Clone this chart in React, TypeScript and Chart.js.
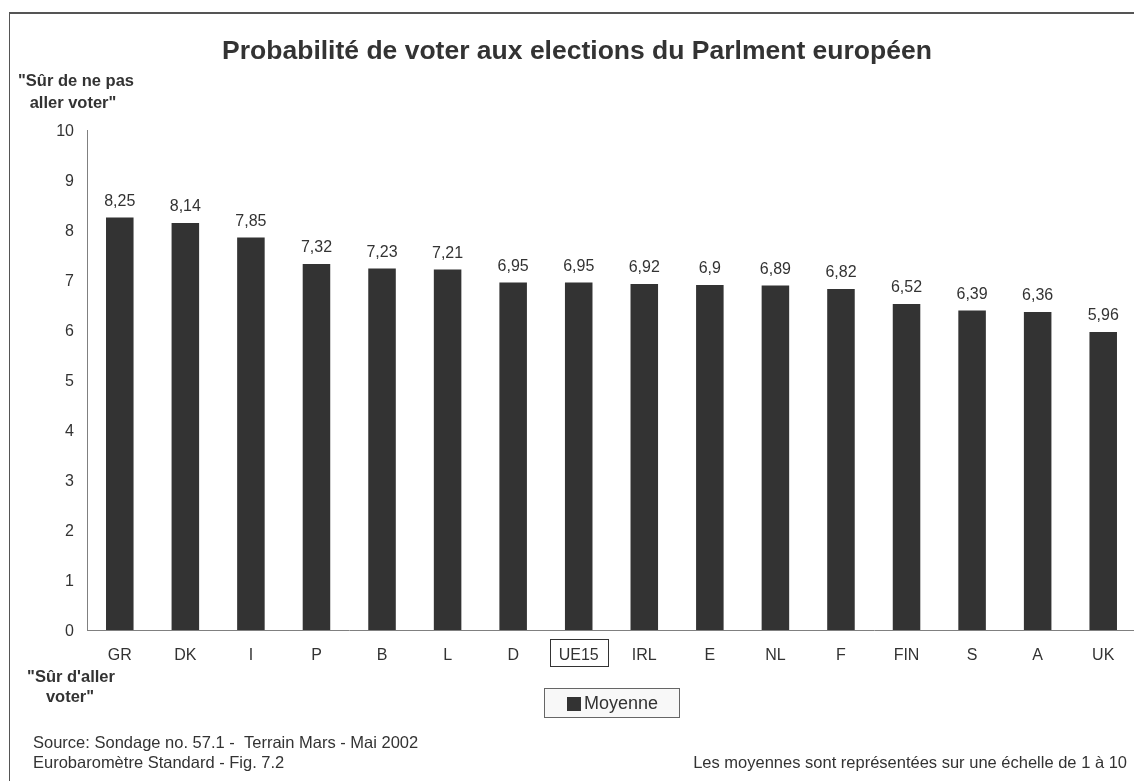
import React, { useEffect, useRef } from "react";
import { Chart, registerables } from "chart.js";

Chart.register(...registerables);

const categories = ["GR", "DK", "I", "P", "B", "L", "D", "UE15", "IRL", "E", "NL", "F", "FIN", "S", "A", "UK"];
const moyenne = [8.25, 8.14, 7.85, 7.32, 7.23, 7.21, 6.95, 6.95, 6.92, 6.9, 6.89, 6.82, 6.52, 6.39, 6.36, 5.96];
const seriesName = "Moyenne";
const highlighted = "UE15";
const yMin = 0;
const yMax = 10;
const yStep = 1;
const title = "Probabilité de voter aux elections du Parlment européen";
const topAxisNote = ["\"Sûr de ne pas", "aller voter\""];
const bottomAxisNote = ["\"Sûr d'aller", "voter\""];
const sourceLines = ["Source: Sondage no. 57.1 -  Terrain Mars - Mai 2002", "Eurobaromètre Standard - Fig. 7.2"];
const scaleNote = "Les moyennes sont représentées sur une échelle de 1 à 10";

const FONT = "'Liberation Sans', Arial, sans-serif";
const TEXT = "#333333";
const BAR = "#333333";

const fmt = (v: number) => String(v).replace(".", ",");

const decorPlugin = {
  id: "decor",
  afterDraw(chart: any) {
    const ctx = chart.ctx as CanvasRenderingContext2D;
    ctx.save();
    // frame
    ctx.strokeStyle = "#555555";
    ctx.lineWidth = 2;
    ctx.beginPath();
    ctx.moveTo(9, 13);
    ctx.lineTo(1140, 13);
    ctx.stroke();
    ctx.lineWidth = 1;
    ctx.beginPath();
    ctx.moveTo(9.5, 13);
    ctx.lineTo(9.5, 781);
    ctx.stroke();

    // title
    ctx.fillStyle = TEXT;
    ctx.font = `bold 26.5px ${FONT}`;
    ctx.textAlign = "center";
    ctx.textBaseline = "middle";
    ctx.fillText(title, 577, 52);

    // axis notes
    ctx.font = `bold 16.5px ${FONT}`;
    ctx.fillText(topAxisNote[0], 76, 81);
    ctx.fillText(topAxisNote[1], 73, 103);
    ctx.fillText(bottomAxisNote[0], 71, 677);
    ctx.fillText(bottomAxisNote[1], 70, 697);

    // data labels
    const meta = chart.getDatasetMeta(0);
    ctx.font = `16px ${FONT}`;
    meta.data.forEach((bar: any, i: number) => {
      ctx.fillText(fmt(chart.data.datasets[0].data[i]), bar.x, bar.y - 16);
    });

    // highlight box around UE15 tick label
    const xScale = chart.scales.x;
    const idx = categories.indexOf(highlighted);
    if (idx >= 0) {
      const cx = xScale.getPixelForValue(idx);
      ctx.font = `16px ${FONT}`;
      const w = ctx.measureText(highlighted).width;
      ctx.strokeStyle = "#333333";
      ctx.lineWidth = 1;
      ctx.strokeRect(Math.round(cx - w / 2 - 9) + 0.5, 639.5, Math.round(w + 18), 27);
    }

    // legend
    ctx.fillStyle = "#f8f8f8";
    ctx.fillRect(545, 689, 134, 28);
    ctx.strokeStyle = "#666666";
    ctx.strokeRect(544.5, 688.5, 135, 29);
    ctx.fillStyle = chart.data.datasets[0].backgroundColor;
    ctx.fillRect(567, 697, 14, 14);
    ctx.fillStyle = TEXT;
    ctx.font = `18px ${FONT}`;
    ctx.textAlign = "left";
    ctx.fillText(chart.data.datasets[0].label, 584, 704);

    // footer
    ctx.font = `16.5px ${FONT}`;
    ctx.fillText(sourceLines[0], 33, 743);
    ctx.fillText(sourceLines[1], 33, 763);
    ctx.textAlign = "right";
    ctx.fillText(scaleNote, 1127, 763);
    ctx.restore();
  },
};

export default function App() {
  const ref = useRef<HTMLCanvasElement | null>(null);
  useEffect(() => {
    if (!ref.current) return;
    const chart = new Chart(ref.current, {
      type: "bar",
      data: {
        labels: categories,
        datasets: [
          {
            label: seriesName,
            data: moyenne,
            backgroundColor: BAR,
            borderWidth: 0,
            barPercentage: 0.42,
            categoryPercentage: 1,
          },
        ],
      },
      options: {
        responsive: false,
        animation: false,
        devicePixelRatio: 1,
        layout: { padding: { left: 10, right: 4, top: 130, bottom: 0 } },
        plugins: {
          legend: { display: false },
          title: { display: false },
          tooltip: { enabled: false },
        },
        scales: {
          x: {
            grid: { display: false, drawTicks: false },
            border: { display: true, color: "#808080", width: 1 },
            ticks: {
              color: TEXT,
              font: { family: FONT, size: 16 },
              padding: 16,
              maxRotation: 0,
              autoSkip: false,
            },
            afterFit: (s: any) => {
              s.height = 151;
            },
          },
          y: {
            min: yMin,
            max: yMax,
            grid: { display: false, drawTicks: false },
            border: { display: true, color: "#808080", width: 1 },
            ticks: {
              stepSize: yStep,
              color: TEXT,
              font: { family: FONT, size: 16 },
              padding: 13,
              labelOffset: 2,
            },
            afterFit: (s: any) => {
              s.width = 77;
            },
          },
        },
      },
      plugins: [decorPlugin],
    });
    return () => chart.destroy();
  }, []);

  return (
    <div style={{ position: "fixed", left: 0, top: 0, width: 1134, height: 781, overflow: "hidden", background: "#fff" }}>
      <canvas ref={ref} width={1140} height={781} style={{ width: 1140, height: 781, display: "block" }} />
    </div>
  );
}
